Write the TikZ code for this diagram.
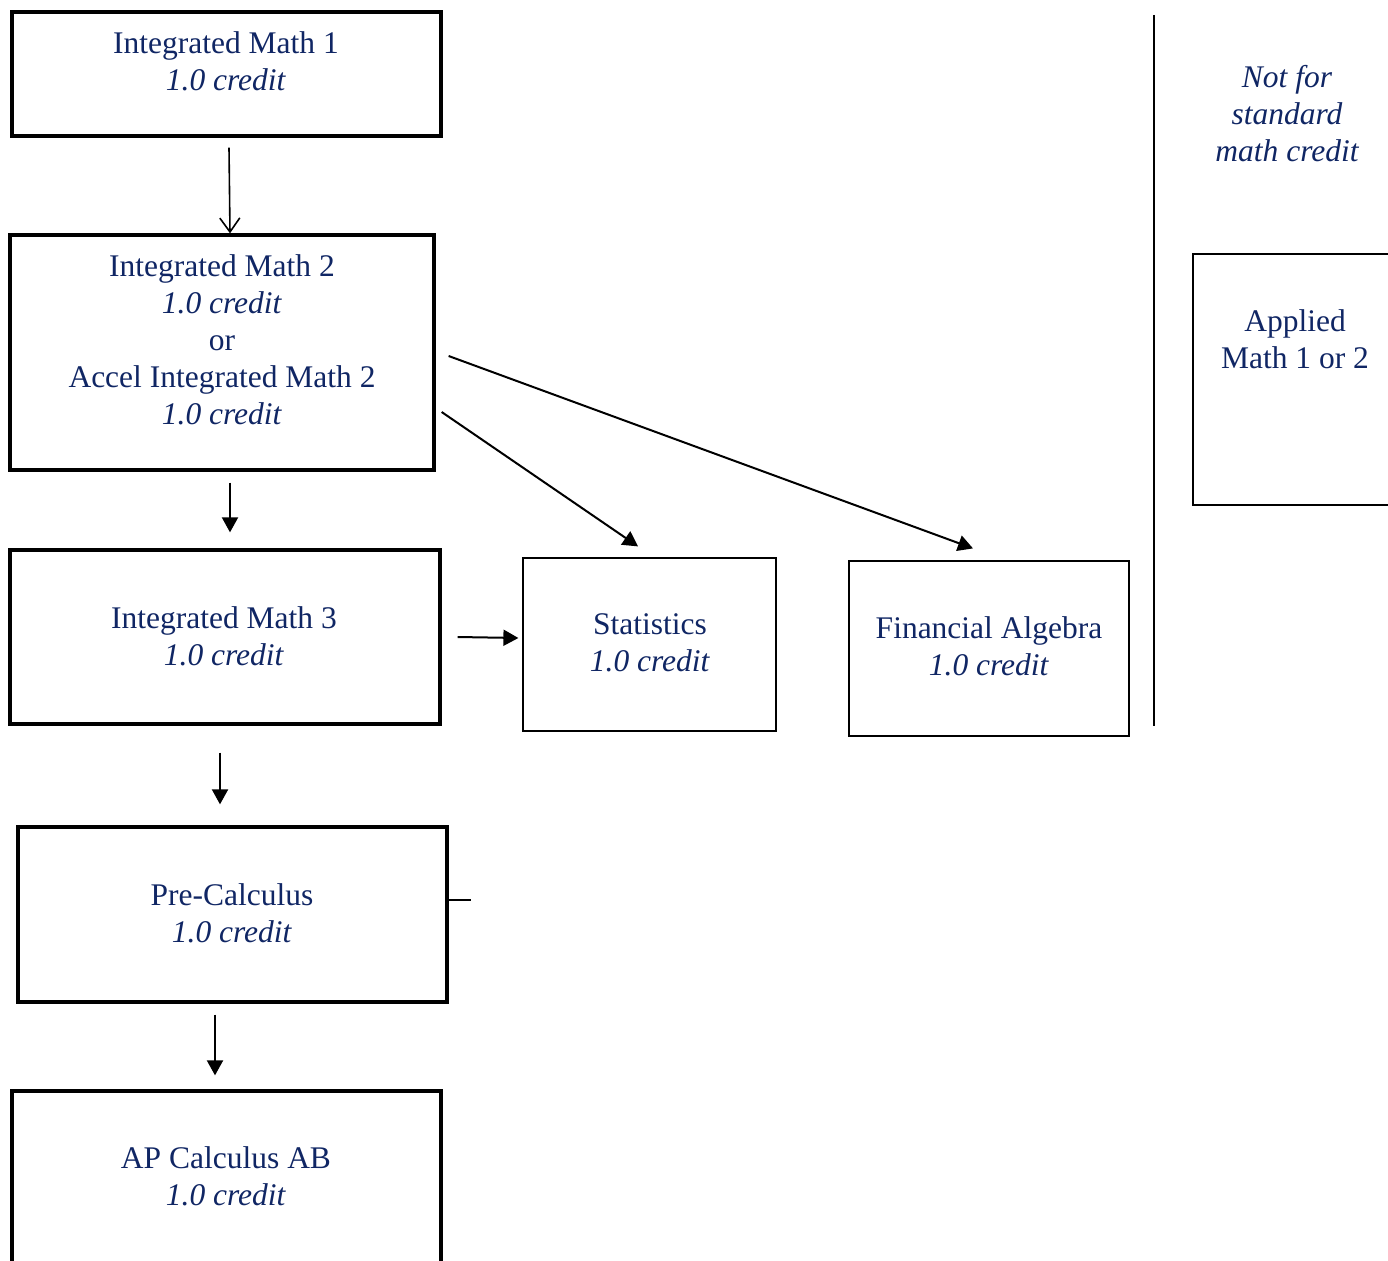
\documentclass[tikz,border=0pt]{standalone}
\usepackage{fontspec}
\setmainfont{Liberation Serif}
\usetikzlibrary{arrows.meta}
\definecolor{navy}{RGB}{16,38,100}
\begin{document}
\begin{tikzpicture}[x=1pt,y=-1pt,
  course/.style={draw, line width=3.3pt, minimum width=#1},
  course/.default=429pt,
  elective/.style={draw, line width=1.2pt},
  txt/.style={text=navy, align=center, inner sep=0pt,
    font=\fontsize{31.5}{37}\selectfont},
  arr/.style={line width=2pt, -{Triangle[length=15pt,width=16pt]}},
  openarr/.style={line width=1.6pt, -{Straight Barb[length=14pt,width=20pt]}}]
  \useasboundingbox (0,0) rectangle (1388,1260);
  % main sequence
  \node[course, minimum height=124pt] (m1) at (226.5,74) {};
  \node[course=424pt, minimum height=235pt] (m2) at (222,352.5) {};
  \node[course=430pt, minimum height=174pt] (m3) at (225,637) {};
  \node[course, minimum height=175pt] (pc) at (232.5,914.5) {};
  \node[course, minimum height=209pt] (ap) at (226.5,1195.5) {};
  \node[txt] (m1txt) at (226,61) {Integrated Math 1\\ \textit{1.0 credit}};
  \node[txt] (m2txt) at (222,340) {Integrated Math 2\\ \textit{1.0 credit}\\ or\\
    Accel Integrated Math 2\\ \textit{1.0 credit}};
  \node[txt] (m3txt) at (224,636) {Integrated Math 3\\ \textit{1.0 credit}};
  \node[txt] (pctxt) at (232,913) {Pre-Calculus\\ \textit{1.0 credit}};
  \node[txt] (aptxt) at (226,1176) {AP Calculus AB\\ \textit{1.0 credit}};
  % side courses
  \node[elective, minimum width=253pt, minimum height=173pt] (stat) at (649.5,644.5) {};
  \node[elective, minimum width=280pt, minimum height=175pt] (fin) at (989,648.5) {};
  \node[elective, minimum width=207pt, minimum height=251pt] (app) at (1296.5,379.5) {};
  \node[txt] (stattxt) at (650,643) {Statistics\\ \textit{1.0 credit}};
  \node[txt] (fintxt) at (989,646) {Financial Algebra\\ \textit{1.0 credit}};
  \node[txt] (apptxt) at (1295,339) {Applied\\ Math 1 or 2};
  \node[txt, font=\fontsize{31.5}{37}\selectfont\itshape] (note) at (1287,114)
    {Not for\\ standard\\ math credit};
  % divider
  \coordinate (divtop) at (1154,15);
  \coordinate (divbot) at (1154,726);
  \draw[line width=2pt] (divtop) -- (divbot);
  % connectors
  \draw[openarr] ([xshift=2.5pt,yshift=-10pt]m1.south) -- ([xshift=8pt]m2.north);
  \draw[arr] ([xshift=8pt,yshift=-11pt]m2.south) -- ([xshift=5pt,yshift=16pt]m3.north);
  \draw[arr] ([xshift=6pt,yshift=-59.5pt]m2.east) -- ([xshift=-11.5pt,yshift=11pt]stat.north);
  \draw[arr] ([xshift=13pt,yshift=-3.5pt]m2.east) -- ([xshift=-16pt,yshift=12pt]fin.north);
  \draw[arr] ([xshift=16pt]m3.east) -- ([xshift=-4pt,yshift=6.5pt]stat.west);
  \draw[arr] ([xshift=-5pt,yshift=-27pt]m3.south) -- ([xshift=-12.5pt,yshift=21pt]pc.north);
  \draw[line width=2pt] ([yshift=14.5pt]pc.east) -- ([xshift=22pt,yshift=14.5pt]pc.east);
  \draw[arr] ([xshift=-17.5pt,yshift=-11pt]pc.south) -- ([xshift=-11.5pt,yshift=14pt]ap.north);
\end{tikzpicture}
\end{document}
